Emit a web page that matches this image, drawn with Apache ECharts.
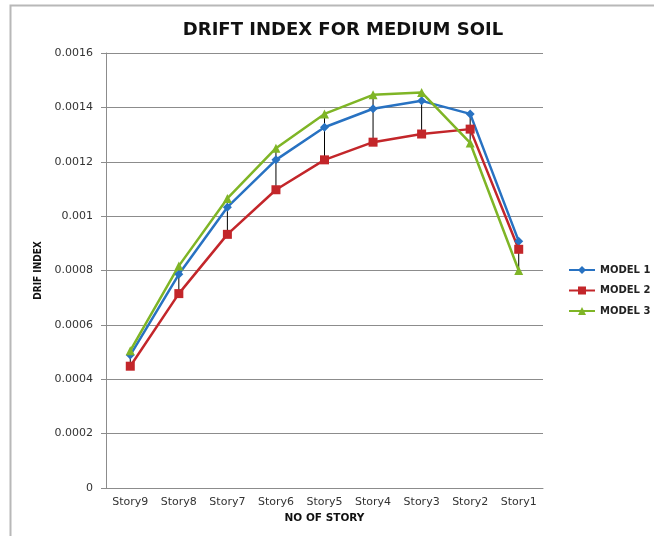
<!DOCTYPE html>
<html>
<head>
<meta charset="utf-8">
<script src="https://cdn.jsdelivr.net/npm/echarts@6/dist/echarts.min.js"></script>
<style>
  html, body { margin: 0; padding: 0; background: #fff; }
  #chart { width: 654px; height: 536px; }
</style>
</head>
<body>
<div id="chart"></div>
<script>
// chart data
const stories = ["Story9", "Story8", "Story7", "Story6", "Story5", "Story4", "Story3", "Story2", "Story1"]
const model1 = [0.000489, 0.000786, 0.001033, 0.001207, 0.001327, 0.001395, 0.001424, 0.001376, 0.000908]
const model2 = [0.000448, 0.000715, 0.000933, 0.001097, 0.001207, 0.001272, 0.001302, 0.001320, 0.000878]
const model3 = [0.000505, 0.000817, 0.001065, 0.001250, 0.001376, 0.001446, 0.001455, 0.001269, 0.000800]
const yTicks = ["0", "0.0002", "0.0004", "0.0006", "0.0008", "0.001", "0.0012", "0.0014", "0.0016"]

// high-low lines: lowest and highest value of the three models at each story
const hiLo = stories.map((s, i) => {
  let vals = [model1[i], model2[i], model3[i]]
  return [i, Math.min(...vals), Math.max(...vals)]
})

let myChart = echarts.init(document.getElementById("chart"))

let lineSeries = function (name, data, color, symbol, size) {
  return {
    name: name,
    type: "line",
    data: data,
    symbol: symbol,
    symbolSize: size,
    showAllSymbol: true,
    z: 3,
    lineStyle: { color: color, width: 2.5 },
    itemStyle: { color: color },
    emphasis: { disabled: true }
  }
}

myChart.setOption({
  animation: false,
  textStyle: { fontFamily: "DejaVu Sans" },
  title: {
    text: "DRIFT INDEX FOR MEDIUM SOIL",
    left: 338,
    textAlign: "center",
    top: 16,
    textStyle: { fontSize: 18, fontWeight: "bold", color: "#111", fontFamily: "DejaVu Sans" }
  },
  graphic: [
    {
      type: "polyline",
      shape: { points: [[10.5, 536], [10.5, 5.5], [654, 5.5]] },
      style: { stroke: "#b8b8b8", lineWidth: 2, fill: null },
      silent: true
    }
  ],
  grid: {
    left: 106,
    right: 111,
    top: 53,
    bottom: 48
  },
  legend: {
    orient: "vertical",
    left: 563,
    top: 260,
    itemWidth: 26,
    itemHeight: 10,
    itemGap: 10.5,
    data: ["MODEL 1", "MODEL 2", "MODEL 3"],
    textStyle: { fontSize: 10, fontWeight: "bold", color: "#222", fontFamily: "DejaVu Sans" }
  },
  xAxis: {
    type: "category",
    data: stories,
    boundaryGap: true,
    name: "NO OF STORY",
    nameLocation: "middle",
    nameGap: 25,
    nameTextStyle: { fontSize: 10.5, fontWeight: "bold", color: "#111" },
    axisLine: { lineStyle: { color: "#8c8c8c", width: 1 } },
    axisTick: { show: false },
    axisLabel: { fontSize: 11, color: "#333", margin: 9 }
  },
  yAxis: {
    type: "value",
    min: 0,
    max: 0.0016,
    interval: 0.0002,
    name: "DRIF INDEX",
    nameLocation: "middle",
    nameGap: 61,
    nameTextStyle: { fontSize: 10, fontWeight: "bold", color: "#111", fontFamily: "DejaVu Sans Condensed" },
    axisLine: { show: true, lineStyle: { color: "#8c8c8c", width: 1 } },
    axisTick: { show: true, length: 5, lineStyle: { color: "#8c8c8c" } },
    splitLine: { lineStyle: { color: "#8c8c8c", width: 1 } },
    axisLabel: {
      fontSize: 11,
      color: "#333",
      margin: 13,
      formatter: function (v) {
        let i = Math.round(v / 0.0002)
        return yTicks[i]
      }
    }
  },
  series: [
    {
      name: "hilo",
      type: "custom",
      z: 2,
      silent: true,
      data: hiLo,
      renderItem: function (params, api) {
        let lo = api.coord([api.value(0), api.value(1)])
        let hi = api.coord([api.value(0), api.value(2)])
        return {
          type: "line",
          shape: { x1: lo[0], y1: lo[1], x2: hi[0], y2: hi[1] },
          style: { stroke: "#000", lineWidth: 1 }
        }
      }
    },
    lineSeries("MODEL 1", model1, "#2872c2", "diamond", 9),
    lineSeries("MODEL 2", model2, "#c3262a", "rect", 9),
    lineSeries("MODEL 3", model3, "#7fb526", "triangle", 9)
  ]
})
</script>
</body>
</html>
